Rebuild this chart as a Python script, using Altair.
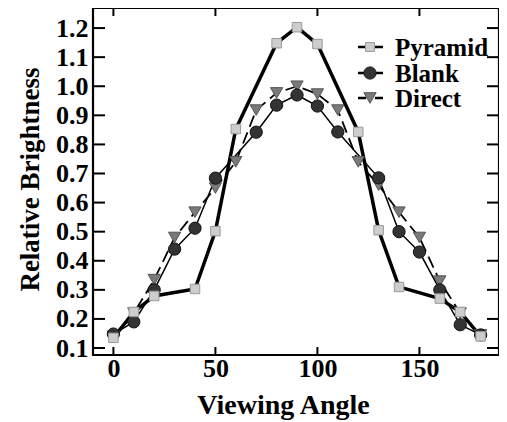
import altair as alt
import pandas as pd

# ---- data ----
pyramid_angle = [0, 10, 20, 40, 50, 60, 80, 90, 100, 120, 130, 140, 160, 170, 180]
pyramid_value = [0.135, 0.224, 0.279, 0.303, 0.502, 0.853, 1.148, 1.203, 1.145, 0.843, 0.505, 0.310, 0.270, 0.224, 0.140]

blank_angle = [0, 10, 20, 30, 40, 50, 70, 80, 90, 100, 110, 130, 140, 150, 160, 170, 180]
blank_value = [0.148, 0.190, 0.300, 0.440, 0.512, 0.684, 0.842, 0.935, 0.970, 0.932, 0.843, 0.685, 0.500, 0.430, 0.300, 0.180, 0.145]

direct_angle = [0, 10, 20, 30, 40, 50, 60, 70, 80, 90, 100, 110, 120, 130, 140, 150, 160, 170, 180]
direct_value = [0.140, 0.220, 0.335, 0.480, 0.567, 0.650, 0.740, 0.918, 0.977, 1.000, 0.973, 0.918, 0.740, 0.660, 0.567, 0.480, 0.330, 0.220, 0.145]

series_names = ["Pyramid", "Blank", "Direct"]
x_ticks = [0, 50, 100, 150]
y_ticks = [0.1, 0.2, 0.3, 0.4, 0.5, 0.6, 0.7, 0.8, 0.9, 1.0, 1.1, 1.2]

W, H = 406, 347
FONT = "Liberation Serif"

dp = pd.DataFrame({"angle": pyramid_angle, "value": pyramid_value})
db = pd.DataFrame({"angle": blank_angle, "value": blank_value})
dd = pd.DataFrame({"angle": direct_angle, "value": direct_value})
dxt = pd.DataFrame({"angle": x_ticks})
dyt = pd.DataFrame({"value": y_ticks})

xs = alt.Scale(domain=[-10, 189], nice=False, zero=False)
ys = alt.Scale(domain=[0.076, 1.269], nice=False, zero=False)

X = alt.X("angle:Q", scale=xs, axis=alt.Axis(
    values=x_ticks, title="Viewing Angle", titleX=190, titleY=58,
    titleBaseline="alphabetic", titleAlign="center", titleFontSize=28,
    labelPadding=0, labelFontSize=26))
Y = alt.Y("value:Q", scale=ys, axis=alt.Axis(
    values=y_ticks, format=".1f", title="Relative Brightness",
    titleX=-63, titleY=171, titleBaseline="middle", titleAlign="center",
    titleAngle=270, titleFontSize=27, labelPadding=5, labelFontSize=26))

line_p = alt.Chart(dp).mark_line(color="black", strokeWidth=3.5).encode(x=X, y=Y)
line_b = alt.Chart(db).mark_line(color="black", strokeWidth=1.5).encode(x=X, y=Y)
line_d = alt.Chart(dd).mark_line(color="black", strokeWidth=1.8, strokeDash=[12, 6]).encode(x=X, y=Y)

pt_d = alt.Chart(dd).mark_point(shape="triangle-down", filled=True, fill="#7a7a7a",
                                stroke="#555555", strokeWidth=1, size=150, opacity=1).encode(x=X, y=Y)
pt_b = alt.Chart(db).mark_point(shape="circle", filled=True, fill="#333333",
                                stroke="#111111", strokeWidth=1, size=150, opacity=1).encode(x=X, y=Y)
pt_p = alt.Chart(dp).mark_point(shape="square", filled=True, fill="#cdcdcd",
                                stroke="#9a9a9a", strokeWidth=1, size=90, opacity=1).encode(x=X, y=Y)

# inward ticks on all four sides
tk_left = alt.Chart(dyt).mark_rule(color="black", strokeWidth=2).encode(
    y=Y, x=alt.value(0), x2=alt.value(12))
tk_right = alt.Chart(dyt).mark_rule(color="black", strokeWidth=2).encode(
    y=Y, x=alt.value(W - 12), x2=alt.value(W))
tk_bottom = alt.Chart(dxt).mark_rule(color="black", strokeWidth=2).encode(
    x=X, y=alt.value(H - 8), y2=alt.value(H))
tk_top = alt.Chart(dxt).mark_rule(color="black", strokeWidth=2).encode(
    x=X, y=alt.value(0), y2=alt.value(8))

# legend
leg_layers = []
styles = [
    dict(shape="square", fill="#cdcdcd", stroke="#9a9a9a", size=80, lw=2.5, dash=[1, 0]),
    dict(shape="circle", fill="#333333", stroke="#111111", size=150, lw=2.5, dash=[1, 0]),
    dict(shape="triangle-down", fill="#7a7a7a", stroke="#555555", size=150, lw=2.5, dash=[8, 9]),
]
row_y = [39, 65, 90]
for name, st, ry in zip(series_names, styles, row_y):
    ld = pd.DataFrame({"label": [name]})
    leg_layers.append(alt.Chart(ld).mark_rule(color="black", strokeWidth=st["lw"], strokeDash=st["dash"]).encode(
        x=alt.value(265), x2=alt.value(290), y=alt.value(ry)))
    leg_layers.append(alt.Chart(ld).mark_point(shape=st["shape"], filled=True, fill=st["fill"],
                                               stroke=st["stroke"], strokeWidth=1, size=st["size"], opacity=1).encode(
        x=alt.value(277), y=alt.value(ry)))
    leg_layers.append(alt.Chart(ld).mark_text(align="left", baseline="middle", font=FONT,
                                              fontWeight="bold", fontSize=25, color="black").encode(
        text="label:N", x=alt.value(302), y=alt.value(ry + 1)))

chart = alt.layer(
    line_p, line_b, line_d, pt_d, pt_b, pt_p,
    tk_left, tk_right, tk_bottom, tk_top, *leg_layers
).properties(
    width=W, height=H,
    autosize=alt.AutoSizeParams(type="none"),
    padding={"left": 85, "top": 0, "right": 0, "bottom": 66},
    background="white",
).configure_view(
    stroke="black", strokeWidth=2.2
).configure_axis(
    domain=False, ticks=False, grid=False,
    labelFont=FONT, labelFontWeight="bold", labelColor="black",
    titleFont=FONT, titleFontWeight="bold", titleColor="black",
)

chart.save("out.html", embed_options={"renderer": "svg", "actions": False})
